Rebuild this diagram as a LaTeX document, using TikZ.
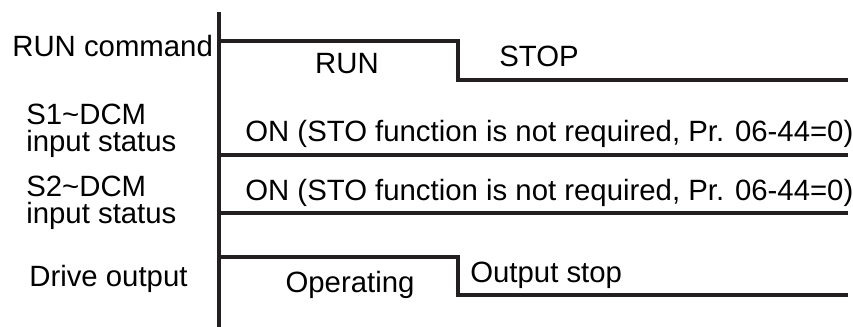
\documentclass[tikz,border=0pt]{standalone}
\usepackage{fontspec}
\setmainfont{Liberation Sans}
\usetikzlibrary{positioning}
\definecolor{ink}{RGB}{35,31,32}

\begin{document}
\begin{tikzpicture}[x=0.02cm, y=-0.02cm,
    wave/.style={draw=ink, line width=1.9pt, line join=miter},
    sig name/.style={anchor=base west, inner sep=0pt, text=black,
        font=\fontsize{16.7}{15.8}\selectfont, align=left},
    sig text/.style={anchor=base, inner sep=0pt, text=black,
        font=\fontsize{16.7}{15.8}\selectfont}
]
\useasboundingbox (0,0) rectangle (853,327);

% time axis
\coordinate (axtop) at (219,12);
\coordinate (axbot) at (219,327);
\draw[wave] (axtop) -- (axbot);

% RUN command
\node[sig name] (runname) at (12,57) {RUN command};
\coordinate (run0) at (219,41);
\coordinate (run1) at (458,41);
\coordinate (run2) at (458,80);
\coordinate (run3) at (848,80);
\draw[wave] (run0) -- (run1) -- (run2) -- (run3);
\node[sig text] (run) at (347,74) {RUN};
\node[sig text, anchor=base west] (stop) at (499,67) {STOP};

% S1~DCM input status (base = last line)
\node[sig name] (s1name) at (26,152) {S1\textasciitilde DCM\\input status};
\coordinate (s1a) at (219,155);
\coordinate (s1b) at (848,155);
\draw[wave] (s1a) -- (s1b);
\node[sig text, anchor=base west] (s1on) at (245,142)
    {ON (STO function is not required, Pr. 06-44=0)};

% S2~DCM input status
\node[sig name] (s2name) at (26,224) {S2\textasciitilde DCM\\input status};
\coordinate (s2a) at (219,213);
\coordinate (s2b) at (848,213);
\draw[wave] (s2a) -- (s2b);
\node[sig text, anchor=base west] (s2on) at (245,201)
    {ON (STO function is not required, Pr. 06-44=0)};

% Drive output
\node[sig name] (drvname) at (29,287) {Drive output};
\coordinate (drv0) at (219,257);
\coordinate (drv1) at (458,257);
\coordinate (drv2) at (458,295);
\coordinate (drv3) at (848,295);
\draw[wave] (drv0) -- (drv1) -- (drv2) -- (drv3);
\node[sig text] (oper) at (350,293) {Operating};
\node[sig text, anchor=base west] (ostop) at (470,283) {Output stop};
\end{tikzpicture}
\end{document}
